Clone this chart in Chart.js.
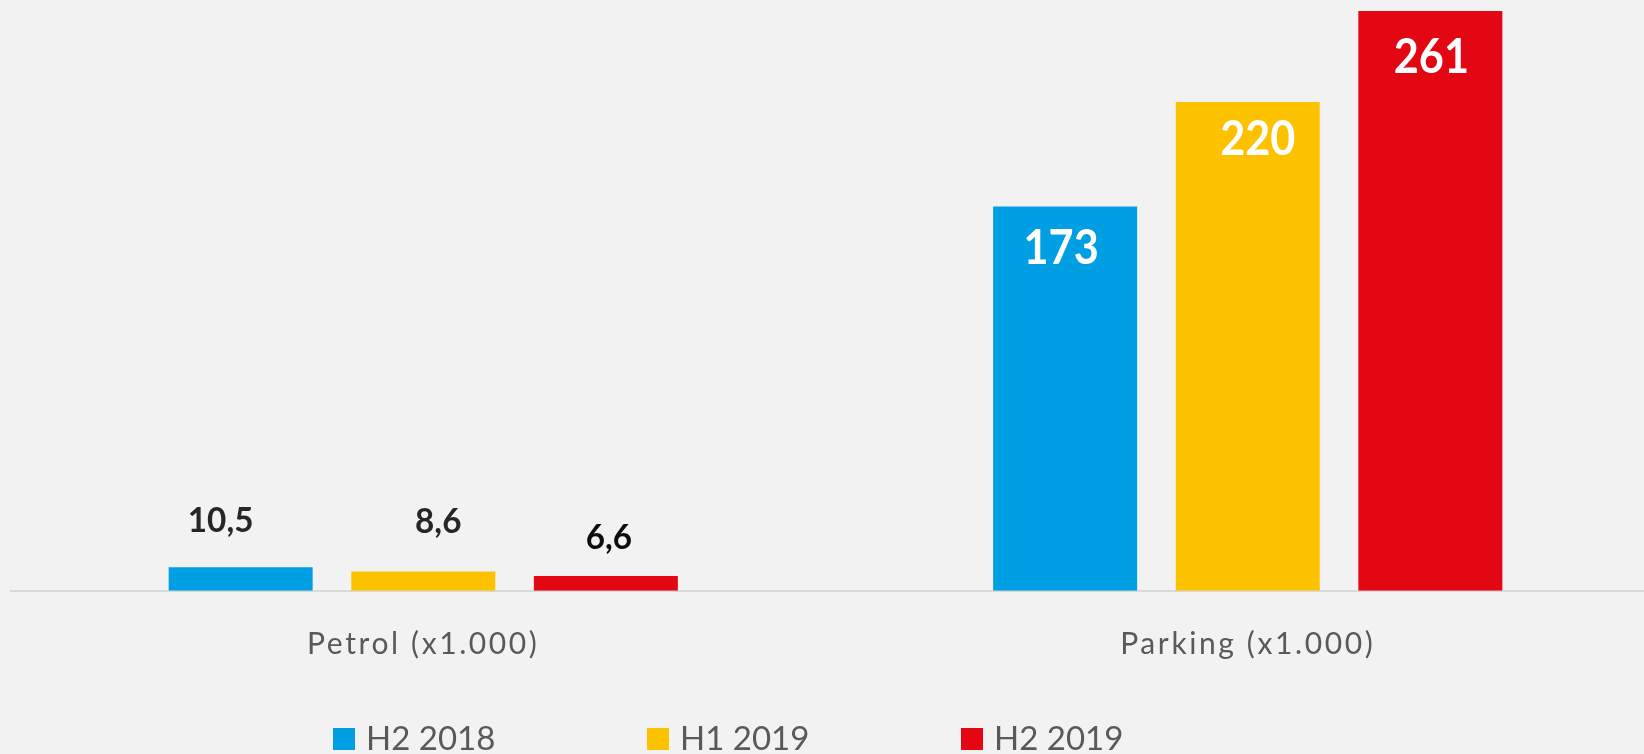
<!DOCTYPE html>
<html>
<head>
<meta charset="utf-8">
<script src="https://cdn.jsdelivr.net/npm/chart.js@4.4.1/dist/chart.umd.min.js"></script>
<style>
  html, body { margin: 0; padding: 0; background: #f2f2f2; overflow: hidden; }
  #wrap { width: 1660px; height: 754px; }
</style>
</head>
<body>
<div id="wrap"><canvas id="salesChart"></canvas></div>
<script>
// categories and series
const categories = ["Petrol (x1.000)", "Parking (x1.000)"];
const periods = ["H2 2018", "H1 2019", "H2 2019"];
const h2_2018 = [10.5, 173];
const h1_2019 = [8.6, 220];
const h2_2019 = [6.6, 261];

const colors = ["#009fe3", "#fcc200", "#e30613"];
const FONT = "Lato, 'Open Sans', sans-serif";

function fmt(v) {
  return v < 100 ? v.toFixed(1).replace(".", ",") : String(v);
}

// value labels: small bars get a dark label above, tall bars a white one inside
const labelNudge = [
  [[-20, -47], [-4, 42]],
  [[15, -50], [10, 38]],
  [[3, -38], [1, 47]]
];
const smallLabelColors = ["#262626", "#262626", "#0d0d0d"];

const barLabels = {
  id: "barLabels",
  afterDatasetsDraw(chart) {
    const ctx = chart.ctx;
    chart.data.datasets.forEach((ds, di) => {
      const meta = chart.getDatasetMeta(di);
      meta.data.forEach((bar, i) => {
        const v = ds.data[i];
        const [dx, dy] = labelNudge[di][i];
        const inside = v > 100;
        ctx.save();
        ctx.font = inside ? "bold 48px " + FONT : "bold 35px " + FONT;
        ctx.fillStyle = inside ? "#ffffff" : smallLabelColors[di];
        ctx.textAlign = "center";
        ctx.textBaseline = "middle";
        ctx.translate(bar.x + dx, bar.y + dy);
        ctx.scale(inside ? 0.9 : 0.95, 1);
        ctx.fillText(fmt(v), 0, 0);
        ctx.restore();
      });
    });
  }
};

// the category names are spaced out a little, like the original
const tickSpacing = {
  id: "tickSpacing",
  beforeDraw(chart) { chart.ctx.letterSpacing = "2.6px"; },
  beforeDatasetsDraw(chart) { chart.ctx.letterSpacing = "0px"; }
};

const bottomLegend = {
  id: "bottomLegend",
  afterDraw(chart) {
    const ctx = chart.ctx;
    ctx.save();
    ctx.letterSpacing = "0px";
    ctx.font = "33px " + FONT;
    ctx.textBaseline = "alphabetic";
    ctx.textAlign = "left";
    chart.data.datasets.forEach((ds, i) => {
      const x = 333 + i * 314;
      ctx.fillStyle = ds.backgroundColor;
      ctx.fillRect(x, 728, 22, 22);
      ctx.fillStyle = "#595959";
      ctx.fillText(ds.label, x + 33, 750);
    });
    ctx.restore();
  }
};

const datasets = [h2_2018, h1_2019, h2_2019].map((d, i) => ({
  label: periods[i],
  data: d,
  backgroundColor: colors[i],
  borderWidth: 0,
  categoryPercentage: 0.6644,
  barPercentage: 0.7886
}));

new Chart(document.getElementById("salesChart"), {
  type: "bar",
  data: { labels: categories, datasets },
  options: {
    responsive: true,
    maintainAspectRatio: false,
    animation: false,
    layout: { padding: { left: 11, right: 0, top: 2, bottom: 83.3 } },
    plugins: {
      legend: { display: false },
      tooltip: { enabled: false }
    },
    scales: {
      x: {
        grid: { display: false, drawTicks: false },
        border: { display: true, color: "#d9d9d9", width: 2 },
        ticks: {
          color: "#595959",
          font: { family: FONT, size: 30 },
          padding: 36
        },
        afterFit(scale) { scale.height = 80; }
      },
      y: {
        display: false,
        min: 0,
        max: 265
      }
    }
  },
  plugins: [tickSpacing, barLabels, bottomLegend]
});
</script>
</body>
</html>
